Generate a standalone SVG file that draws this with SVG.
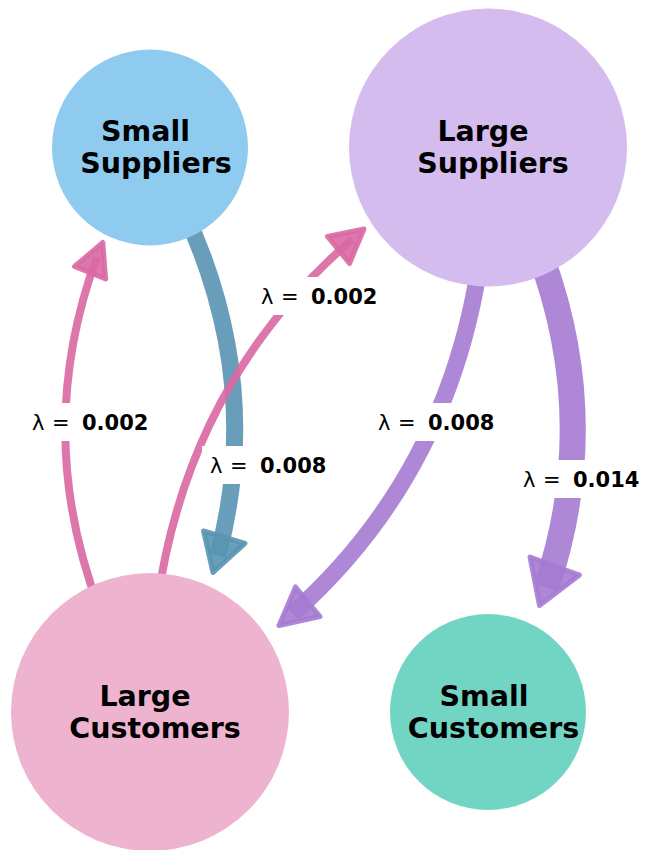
<svg xmlns="http://www.w3.org/2000/svg" width="645" height="850" viewBox="0 0 645 850">
<style>
.blue{stroke:#5994b3;fill:#5994b3}
.pink{stroke:#d968a2;fill:#d968a2}
.purple{stroke:#a57bd1;fill:#a57bd1}
path.shaft{fill:none;stroke-linecap:butt;stroke-opacity:0.9}
polygon.head{stroke-width:5;stroke-linejoin:round;fill-opacity:0.9;stroke-opacity:0.9}
.box{fill:#ffffff;stroke:none}
.lbl{font-family:"DejaVu Sans","Liberation Sans",sans-serif;font-size:21px;fill:#000000}
.lbl .num{font-weight:bold}
.node text{font-family:"DejaVu Sans","Liberation Sans",sans-serif;font-weight:bold;font-size:28.5px;fill:#000000;text-anchor:middle}
</style>
<rect x="0" y="0" width="645" height="850" fill="#ffffff"/>
<g id="connectors">
  <g id="edge-ss-lc">
    <path class="shaft blue" stroke-width="17" d="M150,147 Q272.6,351.4 217.8,555.8"/>
    <polygon class="head blue" points="213,572.5 245,543.5 203.5,531"/>
  </g>
  <g id="edge-lc-ss">
    <path class="shaft pink" stroke-width="8" d="M150,712 Q13.6,484.6 96.8,257.2"/>
    <polygon class="head pink" points="102.8,242.5 105.6,279 74.5,266.5"/>
  </g>
  <g id="edge-lc-ls">
    <path class="shaft pink" stroke-width="8" d="M150,712 Q149.6,414.8 352.3,239.2"/>
    <polygon class="head pink" points="364,229 349.5,263.5 327.5,236.5"/>
  </g>
  <g id="edge-ls-lc">
    <path class="shaft purple" stroke-width="17" d="M488,147 Q488.3,439.2 292.5,613.9"/>
    <polygon class="head purple" points="279,625.5 320,616.5 295.5,587"/>
  </g>
  <g id="edge-ls-sc">
    <path class="shaft purple" stroke-width="26" d="M488,147 Q620.2,367.4 546.2,587.7"/>
    <polygon class="head purple" points="539.5,605.5 579.5,575 530,557"/>
  </g>
  <g id="edge-labels">
    <rect class="box" x="24" y="403" width="136" height="38"/>
    <text class="lbl" y="429.5"><tspan x="32">λ</tspan><tspan x="52">=</tspan><tspan class="num" x="82">0.002</tspan></text>
    <rect class="box" x="202" y="446" width="136" height="38"/>
    <text class="lbl" y="472.5"><tspan x="210">λ</tspan><tspan x="230">=</tspan><tspan class="num" x="260">0.008</tspan></text>
    <rect class="box" x="253" y="277" width="136" height="38"/>
    <text class="lbl" y="303.5"><tspan x="261">λ</tspan><tspan x="281">=</tspan><tspan class="num" x="311">0.002</tspan></text>
    <rect class="box" x="370" y="403" width="136" height="38"/>
    <text class="lbl" y="429.5"><tspan x="378">λ</tspan><tspan x="398">=</tspan><tspan class="num" x="428">0.008</tspan></text>
    <rect class="box" x="515" y="460" width="130" height="38"/>
    <text class="lbl" y="486.5"><tspan x="523">λ</tspan><tspan x="543">=</tspan><tspan class="num" x="573">0.014</tspan></text>
  </g>
</g>
<g id="small-suppliers" class="node">
  <circle cx="150" cy="147.5" r="98" fill="#8ecbee"/>
  <text x="145.5" y="140.5">Small</text>
  <text x="156" y="172.5">Suppliers</text>
</g>
<g id="large-suppliers" class="node">
  <circle cx="488" cy="147.5" r="139" fill="#d4bcef"/>
  <text x="483" y="140.5">Large</text>
  <text x="493" y="172.5">Suppliers</text>
</g>
<g id="large-customers" class="node">
  <circle cx="150" cy="712" r="139" fill="#eeb3cf"/>
  <text x="145" y="705.5">Large</text>
  <text x="155" y="737.5">Customers</text>
</g>
<g id="small-customers" class="node">
  <circle cx="488" cy="712" r="98" fill="#72d5c4"/>
  <text x="484" y="705.5">Small</text>
  <text x="493.5" y="737.5">Customers</text>
</g>
</svg>
